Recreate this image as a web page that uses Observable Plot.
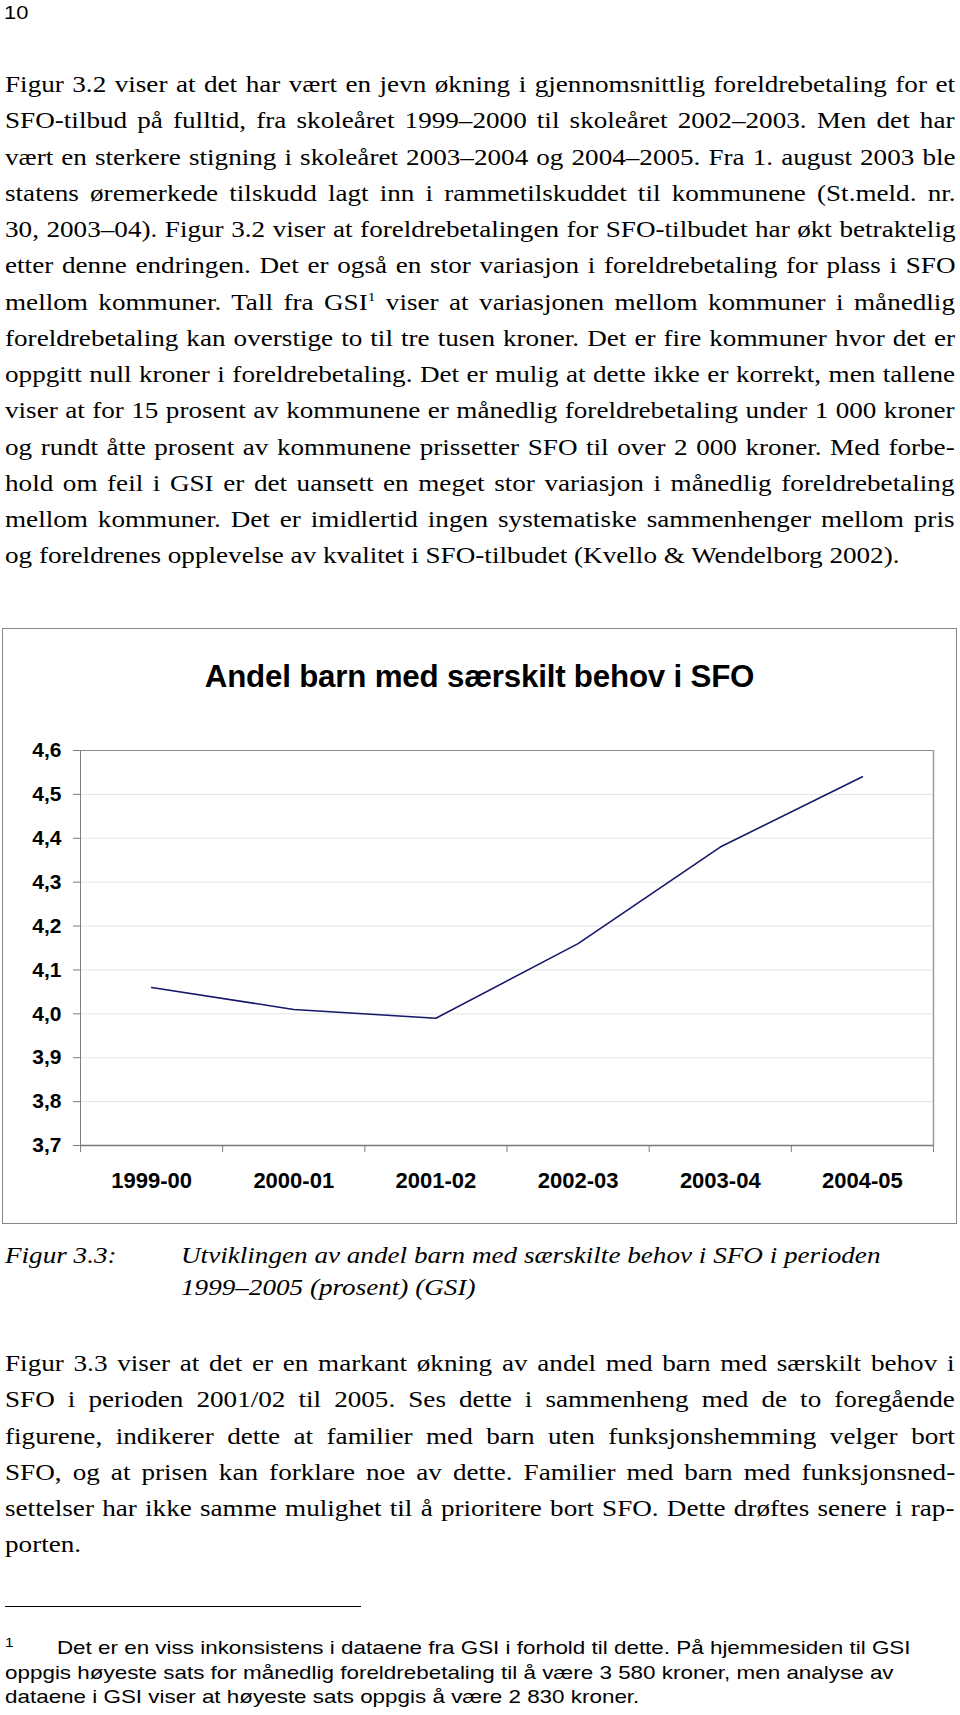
<!DOCTYPE html>
<html>
<head>
<meta charset="utf-8">
<script src="https://cdn.jsdelivr.net/npm/d3@7"></script>
<script src="https://cdn.jsdelivr.net/npm/@observablehq/plot@0.6"></script>
<style>
  html, body { margin: 0; padding: 0; background: #fff; }
  body { position: relative; width: 960px; height: 1715px; overflow: hidden; color: #000; }
  .abs { position: absolute; }
  .serif { font-family: "Liberation Serif", "Times New Roman", serif; font-size: 23px; line-height: 36.25px; transform-origin: 0 0; white-space: nowrap; }
  .serif .ln { display: block; white-space: nowrap; }
  .cap { font-style: italic; line-height: 32px; }
  .sans { font-family: "Liberation Sans", Arial, sans-serif; }
  .foot { font-size: 19px; line-height: 24.5px; transform-origin: 0 0; white-space: nowrap; }
  .foot .ln { display: block; white-space: nowrap; }
  sup { font-size: 13px; line-height: 0; vertical-align: 0; position: relative; top: -9px; }
  .fnmark { display: inline-block; width: 44px; font-size: 13px; vertical-align: 7px; line-height: 0; }
  #box { position: absolute; left: 2px; top: 628px; width: 955px; height: 596px; border: 1px solid #858585; box-sizing: border-box; }
  #title { position: absolute; left: 0; top: 33px; width: 953px; text-align: center; font-family: "Liberation Sans", Arial, sans-serif; font-weight: bold; font-size: 31.3px; line-height: 30px; letter-spacing: -0.2px; }
  #chart { position: absolute; left: 0px; top: 0px; }
</style>
</head>
<body>
<div class="abs sans" style="left:4px; top:3px; font-size:19px; line-height:20px; transform:scaleX(1.15); transform-origin:0 0;">10</div>

<div id="p1" class="abs serif" style="left:5px; top:67px;">
  <span class="ln j">Figur 3.2 viser at det har vært en jevn økning i gjennomsnittlig foreldrebetaling for et</span>
  <span class="ln j">SFO-tilbud på fulltid, fra skoleåret 1999–2000 til skoleåret 2002–2003. Men det har</span>
  <span class="ln j">vært en sterkere stigning i skoleåret 2003–2004 og 2004–2005. Fra 1. august 2003 ble</span>
  <span class="ln j">statens øremerkede tilskudd lagt inn i rammetilskuddet til kommunene (St.meld. nr.</span>
  <span class="ln j">30, 2003–04). Figur 3.2 viser at foreldrebetalingen for SFO-tilbudet har økt betraktelig</span>
  <span class="ln j">etter denne endringen. Det er også en stor variasjon i foreldrebetaling for plass i SFO</span>
  <span class="ln j">mellom kommuner. Tall fra GSI<sup>1</sup> viser at variasjonen mellom kommuner i månedlig</span>
  <span class="ln j">foreldrebetaling kan overstige to til tre tusen kroner. Det er fire kommuner hvor det er</span>
  <span class="ln j">oppgitt null kroner i foreldrebetaling. Det er mulig at dette ikke er korrekt, men tallene</span>
  <span class="ln j">viser at for 15 prosent av kommunene er månedlig foreldrebetaling under 1 000 kroner</span>
  <span class="ln j">og rundt åtte prosent av kommunene prissetter SFO til over 2 000 kroner. Med forbe-</span>
  <span class="ln j">hold om feil i GSI er det uansett en meget stor variasjon i månedlig foreldrebetaling</span>
  <span class="ln j">mellom kommuner. Det er imidlertid ingen systematiske sammenhenger mellom pris</span>
  <span class="ln">og foreldrenes opplevelse av kvalitet i SFO-tilbudet (Kvello &amp; Wendelborg 2002).</span>
</div>

<div id="box">
  <div id="title">Andel barn med særskilt behov i SFO</div>
  <div id="chart"></div>
</div>

<div class="abs serif cap" style="left:5px; top:1240px;">Figur 3.3:</div>
<div class="abs serif cap" style="left:181px; top:1240px;">
  <span class="ln">Utviklingen av andel barn med særskilte behov i SFO i perioden</span>
  <span class="ln">1999–2005 (prosent) (GSI)</span>
</div>

<div id="p2" class="abs serif" style="left:5px; top:1346px;">
  <span class="ln j">Figur 3.3 viser at det er en markant økning av andel med barn med særskilt behov i</span>
  <span class="ln j">SFO i perioden 2001/02 til 2005. Ses dette i sammenheng med de to foregående</span>
  <span class="ln j">figurene, indikerer dette at familier med barn uten funksjonshemming velger bort</span>
  <span class="ln j">SFO, og at prisen kan forklare noe av dette. Familier med barn med funksjonsned-</span>
  <span class="ln j">settelser har ikke samme mulighet til å prioritere bort SFO. Dette drøftes senere i rap-</span>
  <span class="ln">porten.</span>
</div>

<div class="abs" style="left:5px; top:1606px; width:356px; height:1px; background:#000;"></div>
<div class="abs sans foot" style="left:5px; top:1636px;">
  <span class="ln"><span class="fnmark">1</span>Det er en viss inkonsistens i dataene fra GSI i forhold til dette. På hjemmesiden til GSI</span>
  <span class="ln">oppgis høyeste sats for månedlig foreldrebetaling til å være 3 580 kroner, men analyse av</span>
  <span class="ln">dataene i GSI viser at høyeste sats oppgis å være 2 830 kroner.</span>
</div>

<script>
// ---- Data ----
const categories = ["1999-00", "2000-01", "2001-02", "2002-03", "2003-04", "2004-05"];
const values = [4.06, 4.01, 3.99, 4.16, 4.38, 4.54];
const yTicks = [3.7, 3.8, 3.9, 4.0, 4.1, 4.2, 4.3, 4.4, 4.5, 4.6];
const yDomain = [3.7, 4.6];

const data = categories.map((c, i) => ({pos: i + 0.5, category: c, value: values[i]}));
const boundaries = d3.range(categories.length + 1);
const centers = categories.map((c, i) => i + 0.5);
const comma = d => d3.format(".1f")(d).replace(".", ",");

const chart = Plot.plot({
  width: 953,
  height: 594,
  marginLeft: 77,
  marginRight: 23,
  marginTop: 121,
  marginBottom: 78,
  style: {fontFamily: "'Liberation Sans', Arial, sans-serif", background: "transparent", overflow: "visible"},
  x: {type: "linear", domain: [0, categories.length], axis: null},
  y: {type: "linear", domain: yDomain, axis: null},
  marks: [
    Plot.ruleY(yTicks.slice(1, -1), {stroke: "#e4e4e4", strokeWidth: 1}),
    Plot.ruleY([yDomain[1]], {stroke: "#8a8a8a", strokeWidth: 1}),
    Plot.ruleX([categories.length], {stroke: "#9a9a9a", strokeWidth: 1.5}),
    Plot.ruleX([0], {stroke: "#808080", strokeWidth: 1}),
    Plot.axisY({ticks: yTicks, tickSize: 7, tickPadding: 12, tickFormat: comma, label: null,
      fontSize: 21, fontWeight: "bold", stroke: "#808080", fill: "#000"}),
    Plot.axisX({ticks: boundaries, tickSize: 7, tickFormat: () => "", label: null, stroke: "#808080"}),
    Plot.axisX({ticks: centers, tickSize: 0, tickPadding: 27, label: null,
      tickFormat: d => categories[Math.floor(d)], fontSize: 22, fontWeight: "bold", fill: "#000"}),
    Plot.ruleY([yDomain[0]], {stroke: "#7a7a7a", strokeWidth: 1.6}),
    Plot.line(data, {x: "pos", y: "value", stroke: "#16166a", strokeWidth: 1.6})
  ]
});
document.getElementById("chart").appendChild(chart);

// ---- Text layout: horizontal stretch like the scanned page, justified lines ----
const S = 1.18;
const TARGET = 950;
function layout(el, scale, target) {
  el.style.transform = `scaleX(${scale})`;
  el.querySelectorAll(".ln").forEach(ln => {
    ln.style.display = "block";
    ln.style.width = (target / scale) + "px";
  });
  el.querySelectorAll(".ln.j").forEach(ln => {
    const probe = document.createElement("span");
    probe.style.whiteSpace = "nowrap";
    probe.innerHTML = ln.innerHTML;
    ln.innerHTML = "";
    ln.appendChild(probe);
    const w = probe.offsetWidth;
    const n = (probe.textContent.match(/ /g) || []).length;
    if (n > 0) probe.style.wordSpacing = ((target / scale - w) / n) + "px";
  });
}
layout(document.getElementById("p1"), S, TARGET);
layout(document.getElementById("p2"), S, TARGET);
document.querySelectorAll(".cap").forEach(el => { el.style.transform = `scaleX(${S})`; });
document.querySelectorAll(".foot").forEach(el => { el.style.transform = `scaleX(${S})`; });
</script>
</body>
</html>
